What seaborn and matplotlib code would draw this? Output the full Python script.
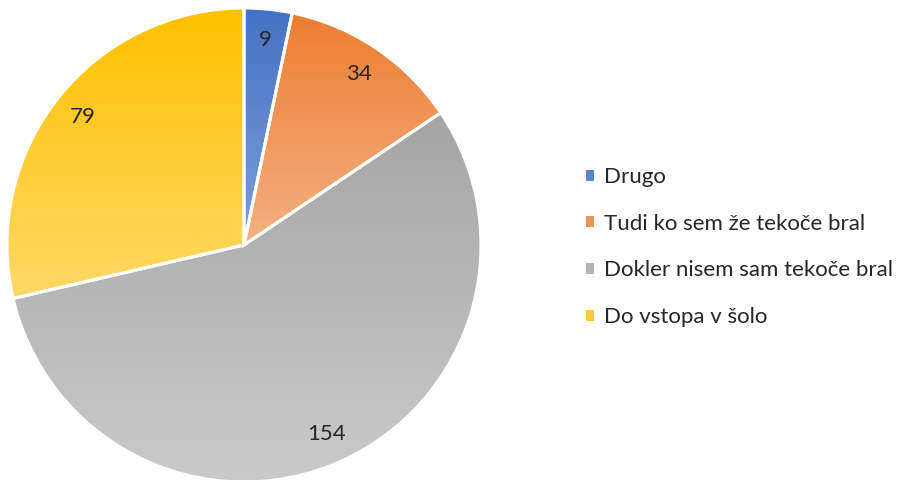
import numpy as np
import matplotlib
matplotlib.use("Agg")
import matplotlib.pyplot as plt
import seaborn as sns
from matplotlib.patches import Patch
from matplotlib.colors import to_rgb

categories = ["Drugo", "Tudi ko sem že tekoče bral", "Dokler nisem sam tekoče bral", "Do vstopa v šolo"]
values = [9, 34, 154, 79]
top_colors = ["#4472C4", "#ED7D31", "#A5A5A5", "#FFC000"]
bottom_colors = ["#7F9EDA", "#F4B183", "#CACACA", "#FFD966"]
legend_colors = ["#5B84CE", "#F0935A", "#B4B4B4", "#FFCB3A"]

sns.set_theme(style="white")
plt.rcParams['font.family'] = ['Lato', 'DejaVu Sans']

fig = plt.figure(figsize=(8.99, 4.8), dpi=100)
W, H = 899, 480
cx, cy, r = 244, 245, 237
ax = fig.add_axes([(cx - r) / W, (H - cy - r) / H, 2 * r / W, 2 * r / H])

wedges, texts, autotexts = ax.pie(
    values, startangle=90, counterclock=False,
    colors=top_colors, radius=1.0,
    autopct=lambda p: f"{p * sum(values) / 100:.0f}",
    pctdistance=0.87,
    wedgeprops=dict(edgecolor="white", linewidth=2.2),
    textprops=dict(fontsize=16, color="#262626"),
)

for w, ct, cb in zip(wedges, top_colors, bottom_colors):
    bb = w.get_path().get_extents()
    t = np.array(to_rgb(ct))
    b = np.array(to_rgb(cb))
    n = 256
    f = np.linspace(0, 1, n)[:, None]
    grad = (t[None, :] * (1 - f) + b[None, :] * f)[:, None, :]
    im = ax.imshow(grad, extent=[bb.x0, bb.x1, bb.y0, bb.y1], origin="upper",
                   aspect="auto", zorder=0.5, interpolation="bilinear")
    im.set_clip_path(w)
    w.set_facecolor("none")
    w.set_zorder(1)

for t in autotexts:
    t.set_zorder(3)

ax.set_xlim(-1, 1)
ax.set_ylim(-1, 1)
ax.set_aspect("equal")
ax.axis("off")

handles = [Patch(facecolor=c, edgecolor="none") for c in legend_colors]
leg = fig.legend(handles, categories, loc="center left",
                 bbox_to_anchor=(566 / W, 1 - 247 / H),
                 frameon=False, fontsize=16, handlelength=0.38, handleheight=0.38,
                 handletextpad=0.45, labelspacing=1.2)
for txt in leg.get_texts():
    txt.set_color("#262626")

fig.savefig("out.png", dpi=100)
